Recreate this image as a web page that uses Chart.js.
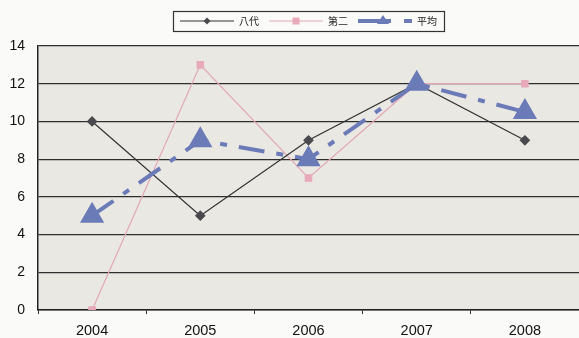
<!DOCTYPE html>
<html lang="ja">
<head>
<meta charset="UTF-8">
<title>Chart</title>
<script src="https://cdn.jsdelivr.net/npm/chart.js"></script>
<style>
    html, body { margin: 0; padding: 0; background: #fafaf8; }
    #wrap { width: 579px; height: 338px; }
</style>
</head>
<body>
<div id="wrap"><canvas id="chart" width="579" height="338"></canvas></div>
<script>
    const years = ['2004', '2005', '2006', '2007', '2008'];
    const yatsushiro = [10, 5, 9, 12, 9];
    const daini = [0, 13, 7, 12, 12];
    const heikin = [5, 9, 8, 12, 10.5];
    const seriesNames = ['八代', '第二', '平均'];

    // small canvas used as the legend symbol: line with a marker on it
    function legendSymbol(color, width, segs, marker, mx, markerColor, r) {
        const c = document.createElement('canvas');
        c.width = 54; c.height = 16;
        const g = c.getContext('2d');
        g.strokeStyle = color;
        g.lineWidth = width;
        segs.forEach(s => {
            g.beginPath(); g.moveTo(s[0], 8); g.lineTo(s[1], 8); g.stroke();
        });
        g.fillStyle = markerColor;
        g.beginPath();
        if (marker === 'diamond') {
            g.moveTo(mx, 8 - r); g.lineTo(mx + r, 8); g.lineTo(mx, 8 + r); g.lineTo(mx - r, 8);
        } else if (marker === 'square') {
            g.rect(mx - r, 8 - r, 2 * r, 2 * r);
        } else {
            g.moveTo(mx, 8 - r); g.lineTo(mx + r, 8 + 3); g.lineTo(mx - r, 8 + 3);
        }
        g.closePath(); g.fill();
        return c;
    }

    const symbols = [
        legendSymbol('#333', 1, [[0, 54]], 'diamond', 27, '#4a4a4e', 3.5),
        legendSymbol('#e2a7b6', 1, [[0, 54]], 'square', 27, '#e8aabb', 3.5),
        legendSymbol('#6b7bb8', 4, [[0, 33], [46, 54]], 'triangle', 25, '#6b7bb8', 6)
    ];

    const plotBg = {
        id: 'plotBg',
        afterInit(chart) {
            // fixed legend block height so the plot starts where it does in the original
            const lg = chart.legend;
            const fit = lg.fit;
            lg.fit = function () { fit.call(this); this.height = 40; };
        },
        beforeDraw(chart) {
            const a = chart.chartArea, ctx = chart.ctx;
            ctx.save();
            ctx.fillStyle = '#eae8e3';
            ctx.fillRect(a.left, a.top, a.right - a.left, a.bottom - a.top);
            ctx.restore();
        },
        afterDraw(chart) {
            const boxes = chart.legend.legendHitBoxes;
            if (!boxes || !boxes.length) return;
            const ctx = chart.ctx;
            const l = Math.min(...boxes.map(b => b.left)) - 7;
            const r = Math.max(...boxes.map(b => b.left + b.width)) + 7;
            const t = Math.min(...boxes.map(b => b.top)) - 5;
            const btm = Math.max(...boxes.map(b => b.top + b.height)) + 5;
            ctx.save();
            ctx.strokeStyle = '#333';
            ctx.lineWidth = 1.2;
            ctx.strokeRect(Math.round(l) + 0.5, Math.round(t) + 0.5, Math.round(r - l), Math.round(btm - t));
            ctx.restore();
        }
    };

    const xFont = { family: '"Liberation Sans", Arial, sans-serif', size: 14.5 };
    const yFont = { family: '"Liberation Sans", Arial, sans-serif', size: 14 };

    new Chart(document.getElementById('chart'), {
        type: 'line',
        data: {
            labels: years,
            datasets: [
                {
                    label: seriesNames[0], data: yatsushiro,
                    borderColor: '#333', borderWidth: 1.2,
                    pointStyle: 'rectRot', pointRadius: 4.5,
                    pointBackgroundColor: '#4a4a4e', pointBorderColor: '#4a4a4e',
                    tension: 0, order: 2
                },
                {
                    label: seriesNames[1], data: daini,
                    borderColor: '#e2a7b6', borderWidth: 1.2,
                    pointStyle: 'rect', pointRadius: 4.5,
                    pointBackgroundColor: '#e8aabb', pointBorderColor: '#e8aabb',
                    tension: 0, order: 3
                },
                {
                    label: seriesNames[2], data: heikin,
                    borderColor: '#6b7bb8', borderWidth: 4,
                    borderDash: [26, 12, 7, 12],
                    pointStyle: 'triangle', pointRadius: 10,
                    pointBackgroundColor: '#6b7bb8', pointBorderColor: '#6b7bb8',
                    tension: 0, order: 1
                }
            ]
        },
        options: {
            responsive: false,
            animation: false,
            layout: { autoPadding: false, padding: { top: 6, right: 0, bottom: 0, left: 0 } },
            plugins: {
                tooltip: { enabled: false },
                legend: {
                    position: 'top',
                    fullSize: false,
                    labels: {
                        usePointStyle: true,
                        pointStyleWidth: 54,
                        boxHeight: 10,
                        padding: 10,
                        color: '#222',
                        font: { family: '"Noto Sans CJK JP", sans-serif', size: 10 },
                        generateLabels(chart) {
                            return chart.data.datasets.map((ds, i) => ({
                                text: ds.label,
                                pointStyle: symbols[i],
                                fillStyle: 'transparent',
                                strokeStyle: 'transparent',
                                lineWidth: 0,
                                fontColor: '#222',
                                datasetIndex: i,
                                hidden: false
                            }));
                        }
                    }
                }
            },
            scales: {
                x: {
                    offset: true,
                    afterFit(scale) {
                        scale.height = 28;
                        scale.paddingLeft = 0;
                        scale.paddingRight = 0;
                    },
                    grid: { offset: true, drawOnChartArea: false, color: '#333', tickLength: 4 },
                    border: { color: '#222', width: 1.5 },
                    ticks: { color: '#111', padding: 8, font: xFont }
                },
                y: {
                    min: 0, max: 14,
                    afterFit(scale) {
                        scale.width = 38;
                        scale.paddingTop = 0;
                        scale.paddingBottom = 0;
                    },
                    grid: { color: '#2e2e2e', lineWidth: 1.2, drawTicks: false },
                    border: { color: '#222', width: 1.5 },
                    ticks: { stepSize: 2, color: '#111', padding: 13, font: yFont }
                }
            }
        },
        plugins: [plotBg]
    });
</script>
</body>
</html>
